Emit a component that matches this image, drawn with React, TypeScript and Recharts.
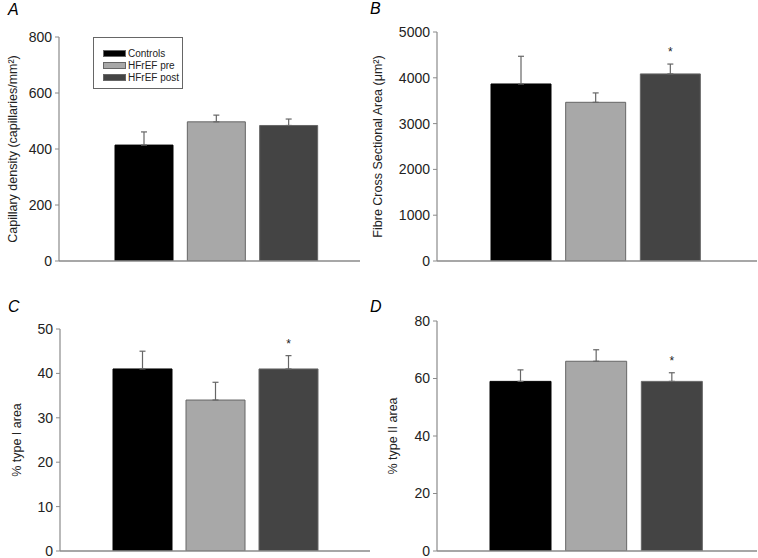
import { BarChart, Bar, XAxis, YAxis, Cell, ErrorBar, LabelList } from "recharts"

const groups = ["Controls", "HFrEF pre", "HFrEF post"]
const groupColors = ["#000000", "#a8a8a8", "#444444"]

// A: capillary density
const capillaryMean = [414, 497, 484]
const capillarySem = [47, 24, 23]
const capillarySig = ["", "", ""]

// B: fibre cross sectional area
const fcsaMean = [3865, 3465, 4085]
const fcsaSem = [605, 205, 215]
const fcsaSig = ["", "", "*"]

// C: % type I area
const type1Mean = [41, 34, 41]
const type1Sem = [4, 4, 3]
const type1Sig = ["", "", "*"]

// D: % type II area
const type2Mean = [59, 66, 59]
const type2Sem = [4, 4, 3]
const type2Sig = ["", "", "*"]

const FONT = "'Liberation Sans', Arial, sans-serif"
const AXIS = "#8a8a8a"

interface PanelProps {
  letter: string
  title: string
  mean: number[]
  sem: number[]
  sig: string[]
  yMax: number
  ticks: number[]
  left: number
  top: number
  width: number
  height: number
  yAxisWidth: number
  margin: { top: number; right: number; bottom: number; left: number }
  padding: { left: number; right: number }
  barSize: number
  titleOffset: number
  letterPos: { x: number; y: number }
  children?: React.ReactNode
}

function Panel(p: PanelProps) {
  // one row per group; upper-only error bars
  const rows = groups.map((g, i) => ({
    group: g,
    value: p.mean[i],
    err: [0, p.sem[i]],
    sig: p.sig[i],
  }))

  const renderStar = (props: any) => {
    const { x, y, width, height, value, index } = props
    if (!value) return null
    const pxPerUnit = height / rows[index].value
    const capY = y - p.sem[index] * pxPerUnit
    return (
      <text x={x + width / 2} y={capY - 8} textAnchor="middle" fontSize={12} fill="#222" fontFamily={FONT}>
        {value}
      </text>
    )
  }

  return (
    <div style={{ position: "absolute", left: p.left, top: p.top, width: p.width, height: p.height }}>
      <div
        style={{
          position: "absolute",
          left: p.letterPos.x,
          top: p.letterPos.y,
          fontSize: 16,
          fontStyle: "italic",
          fontFamily: FONT,
          lineHeight: "16px",
        }}
      >
        {p.letter}
      </div>
      <BarChart width={p.width} height={p.height} data={rows} margin={p.margin}>
        <XAxis
          dataKey="group"
          tick={false}
          tickLine={false}
          height={1}
          padding={p.padding}
          axisLine={{ stroke: AXIS, strokeWidth: 1.5 }}
        />
        <YAxis
          width={p.yAxisWidth}
          domain={[0, p.yMax]}
          ticks={p.ticks}
          interval={0}
          tickSize={4}
          tickMargin={3}
          allowDataOverflow
          axisLine={{ stroke: AXIS, strokeWidth: 1.2 }}
          tickLine={{ stroke: AXIS }}
          tick={{ fill: "#222", fontSize: 14, fontFamily: FONT }}
          label={{
            value: p.title,
            angle: -90,
            position: "insideLeft",
            offset: p.titleOffset,
            style: { textAnchor: "middle", fill: "#222", fontSize: 12.5, fontFamily: FONT },
          }}
        />
        <Bar dataKey="value" barSize={p.barSize} isAnimationActive={false} stroke="#666" strokeWidth={1}>
          {rows.map((r, i) => (
            <Cell key={r.group} fill={groupColors[i]} stroke={i === 0 ? "#000" : "#666"} />
          ))}
          <ErrorBar dataKey="err" width={3} stroke="#666" strokeWidth={1.2} direction="y" />
          <LabelList dataKey="sig" content={renderStar} />
        </Bar>
      </BarChart>
      {p.children}
    </div>
  )
}

function LegendBox() {
  return (
    <div
      style={{
        position: "absolute",
        left: 93,
        top: 37,
        width: 90,
        height: 52,
        border: "1px solid #666",
        boxSizing: "border-box",
        background: "#fff",
        fontFamily: FONT,
        fontSize: 10,
        color: "#222",
        paddingTop: 9,
      }}
    >
      {groups.map((g, i) => (
        <div key={g} style={{ display: "flex", alignItems: "center", height: 12, marginLeft: 9 }}>
          <span
            style={{
              display: "inline-block",
              width: 23,
              height: 7,
              background: groupColors[i],
              border: "1px solid #666",
              boxSizing: "border-box",
              marginRight: 2,
            }}
          />
          {g}
        </div>
      ))}
    </div>
  )
}

export default function App() {
  return (
    <div style={{ position: "absolute", left: 0, top: 0, width: 758, height: 558, background: "#fff" }}>
      <Panel
        letter="A"
        title="Capillary density (capillaries/mm²)"
        mean={capillaryMean}
        sem={capillarySem}
        sig={capillarySig}
        yMax={800}
        ticks={[0, 200, 400, 600, 800]}
        left={0}
        top={0}
        width={380}
        height={280}
        yAxisWidth={59}
        margin={{ top: 37, right: 20, bottom: 18, left: 0 }}
        padding={{ left: 49, right: 35 }}
        barSize={58}
        titleOffset={13}
        letterPos={{ x: 8, y: 2 }}
      >
        <LegendBox />
      </Panel>
      <Panel
        letter="B"
        title="Fibre Cross Sectional Area (μm²)"
        mean={fcsaMean}
        sem={fcsaSem}
        sig={fcsaSig}
        yMax={5000}
        ticks={[0, 1000, 2000, 3000, 4000, 5000]}
        left={370}
        top={0}
        width={388}
        height={280}
        yAxisWidth={67}
        margin={{ top: 32, right: 1, bottom: 18, left: 0 }}
        padding={{ left: 47, right: 49 }}
        barSize={60}
        titleOffset={8}
        letterPos={{ x: 0, y: 1 }}
      />
      <Panel
        letter="C"
        title="% type I area"
        mean={type1Mean}
        sem={type1Sem}
        sig={type1Sig}
        yMax={50}
        ticks={[0, 10, 20, 30, 40, 50]}
        left={0}
        top={280}
        width={380}
        height={278}
        yAxisWidth={60}
        margin={{ top: 49, right: 10, bottom: 6, left: 0 }}
        padding={{ left: 46, right: 45 }}
        barSize={59}
        titleOffset={17}
        letterPos={{ x: 8, y: 19 }}
      />
      <Panel
        letter="D"
        title="% type II area"
        mean={type2Mean}
        sem={type2Sem}
        sig={type2Sig}
        yMax={80}
        ticks={[0, 20, 40, 60, 80]}
        left={370}
        top={280}
        width={388}
        height={278}
        yAxisWidth={67}
        margin={{ top: 41, right: 1, bottom: 6, left: 0 }}
        padding={{ left: 46, right: 47 }}
        barSize={61}
        titleOffset={23}
        letterPos={{ x: 0, y: 19 }}
      />
    </div>
  )
}
